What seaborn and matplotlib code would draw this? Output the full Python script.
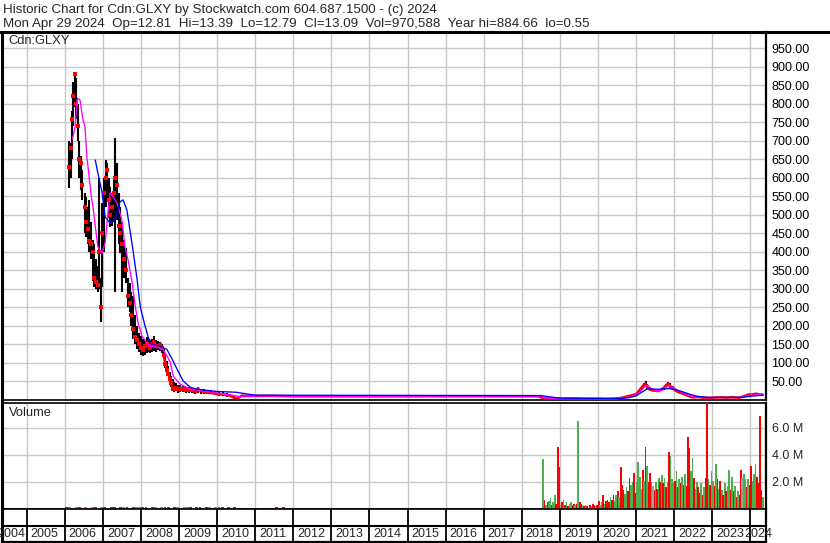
import numpy as np
import matplotlib
matplotlib.use('Agg')
import matplotlib.pyplot as plt
from matplotlib.lines import Line2D
import seaborn as sns

sns.set_style('white')
plt.rcParams['font.family'] = ['Liberation Sans', 'DejaVu Sans']

# --- price bars (decimal year, high, low, close) ---
bar_t = [2006.11, 2006.15, 2006.19, 2006.22, 2006.26, 2006.30, 2006.34, 2006.38, 2006.42, 2006.46,
         2006.52, 2006.56, 2006.60, 2006.64, 2006.68, 2006.73, 2006.78, 2006.83, 2006.87, 2006.91,
         2006.95, 2006.99, 2007.03, 2007.07, 2007.11, 2007.15, 2007.20, 2007.25, 2007.29, 2007.33,
         2007.38, 2007.42, 2007.46, 2007.50, 2007.55, 2007.60, 2007.65, 2007.70, 2007.75, 2007.80,
         2007.85, 2007.90, 2007.95, 2008.00, 2008.05, 2008.10, 2008.15, 2008.20, 2008.25, 2008.30,
         2008.35, 2008.40, 2008.45, 2008.50, 2008.55, 2008.60, 2008.64, 2008.68, 2008.72, 2008.76,
         2008.80, 2008.84, 2008.88, 2008.92, 2008.96, 2009.02, 2009.10, 2009.18, 2009.26, 2009.34,
         2009.42, 2009.50, 2009.58, 2009.66, 2009.75, 2009.85, 2009.95, 2010.05, 2010.15, 2010.25,
         2010.35, 2010.45, 2010.55, 2010.65, 2010.80, 2011.00, 2011.50, 2012.00, 2012.50, 2013.00,
         2013.50, 2014.00, 2014.50, 2015.00, 2015.50, 2016.00, 2016.50, 2017.00, 2017.50, 2018.00,
         2018.45, 2018.56, 2018.64, 2018.72, 2018.80, 2018.88, 2018.96, 2019.05, 2019.15, 2019.25,
         2019.35, 2019.45, 2019.55, 2019.65, 2019.75, 2019.85, 2019.95, 2020.05, 2020.15, 2020.25,
         2020.35, 2020.45, 2020.55, 2020.62, 2020.70, 2020.78, 2020.86, 2020.93, 2021.00, 2021.05,
         2021.10, 2021.15, 2021.20, 2021.25, 2021.30, 2021.35, 2021.42, 2021.50, 2021.58, 2021.66,
         2021.73, 2021.80, 2021.85, 2021.90, 2021.96, 2022.03, 2022.10, 2022.17, 2022.25, 2022.33,
         2022.42, 2022.50, 2022.60, 2022.70, 2022.80, 2022.90, 2023.00, 2023.10, 2023.20, 2023.30,
         2023.40, 2023.50, 2023.60, 2023.70, 2023.80, 2023.88, 2023.95, 2024.05, 2024.15, 2024.25,
         2024.33]
bar_hi = [700, 694, 780, 860, 886, 870, 800, 700, 660, 620,
          560, 548, 520, 540, 480, 432, 420, 380, 360, 598,
          330, 532, 600, 648, 640, 600, 575, 560, 600, 707,
          640, 560, 521, 480, 432, 410, 330, 316, 290, 279,
          230, 198, 180, 172, 165, 160, 170, 165, 160, 165,
          172, 160, 158, 155, 150, 140, 117, 105, 90, 75,
          63, 55, 48, 45, 40, 40, 38, 35, 35, 32,
          30, 35, 30, 28, 25, 25, 22, 20, 20, 18,
          16, 12, 8, 13, 12, 11, 11, 10, 10, 10,
          10, 10, 10, 10, 10, 10, 10, 10, 10, 10,
          10, 5, 4, 3.5, 3.2, 3, 3, 3, 3.5, 3.5,
          3.2, 3.5, 3, 2.8, 2.5, 2.5, 2.6, 3, 2.8, 2.5,
          2.8, 3.5, 4.5, 6, 8, 10, 12, 14, 17, 22,
          30, 36, 45, 50, 42, 35, 30, 28, 27, 30,
          35, 42, 48, 44, 36, 30, 26, 22, 19, 15,
          12, 9, 9, 8, 7, 6, 6, 7, 7.5, 7,
          6.5, 7, 7, 6, 9, 12, 15, 16, 17, 16,
          13.4]
bar_lo = [572, 600, 650, 740, 790, 760, 700, 600, 567, 540,
          450, 440, 420, 400, 380, 320, 305, 300, 290, 300,
          211, 305, 400, 520, 540, 490, 467, 470, 480, 290,
          486, 420, 397, 290, 330, 316, 250, 236, 200, 163,
          150, 136, 130, 120, 118, 120, 125, 130, 125, 130,
          132, 130, 135, 132, 125, 110, 85, 70, 63, 45,
          35, 22, 20, 22, 18, 20, 20, 18, 18, 18,
          15, 18, 15, 14, 14, 14, 12, 10, 10, 8,
          6, 3, 2, 8, 8, 8, 8, 8, 8, 8,
          8, 8, 8, 8, 8, 8, 8, 8, 8, 8,
          8, 2.5, 2.5, 2.5, 2, 1.5, 1.8, 2, 2.5, 2.5,
          2.2, 2.3, 2, 1.8, 1.8, 1.8, 1.9, 2, 1.5, 1.4,
          1.8, 2.2, 3, 4, 5.5, 7, 9, 11, 12, 16,
          20, 27, 33, 38, 30, 26, 22, 22, 20, 22,
          26, 33, 38, 32, 27, 22, 18, 16, 13, 10,
          7, 5, 6, 5, 4, 3, 4, 5, 5.5, 5,
          5, 5, 5, 4.5, 5, 8, 11, 12, 13, 12,
          12.8]
bar_cl = [630, 680, 760, 820, 880, 800, 740, 650, 640, 580,
          520, 480, 460, 430, 420, 400, 330, 317, 310, 400,
          250, 450, 560, 600, 620, 540, 500, 520, 560, 600,
          580, 470, 450, 420, 380, 350, 280, 260, 230, 190,
          170, 160, 150, 140, 135, 145, 150, 148, 140, 150,
          155, 145, 145, 148, 140, 120, 95, 80, 70, 55,
          45, 30, 30, 32, 28, 30, 28, 25, 27, 25,
          22, 30, 22, 20, 18, 18, 16, 14, 15, 12,
          10, 5, 4, 11, 10, 10, 10, 9, 9, 9,
          9, 9, 9, 9, 9, 9, 9, 9, 9, 9,
          9, 3.5, 3, 3, 2.5, 2, 2.5, 2.5, 3, 3,
          2.8, 3, 2.5, 2.2, 2.2, 2.1, 2.3, 2.5, 1.8, 2,
          2.4, 3, 4, 5, 7, 9, 11, 13, 15, 20,
          27, 33, 40, 44, 32, 28, 25, 24, 23, 27,
          32, 40, 44, 35, 30, 25, 21, 18, 15, 12,
          8, 6, 7, 6, 5, 4, 5, 6, 6, 6,
          5.5, 6.5, 6, 5, 8, 11, 14, 14, 16, 14,
          13.1]

# --- moving averages ---
ma_short_t = [2006.20, 2006.27, 2006.33, 2006.40, 2006.47, 2006.53, 2006.58, 2006.64, 2006.70, 2006.74,
              2006.79, 2006.87, 2006.98, 2007.06, 2007.14, 2007.19, 2007.27, 2007.37, 2007.50, 2007.58,
              2007.66, 2007.77, 2007.85, 2007.92, 2008.03, 2008.24, 2008.40, 2008.58, 2008.70, 2008.77,
              2008.85, 2009.03, 2009.29, 2009.60, 2010.00, 2010.40, 2010.60, 2011.00, 2018.50, 2018.60,
              2018.80, 2020.50, 2020.70, 2020.90, 2021.05, 2021.15, 2021.25, 2021.32, 2021.40, 2021.55,
              2021.70, 2021.85, 2021.92, 2022.05, 2022.20, 2022.35, 2022.50, 2022.70, 2022.90, 2023.20,
              2023.70, 2023.85, 2024.00, 2024.33]
ma_short_v = [705, 738, 815, 810, 760, 737, 656, 602, 545, 523,
              477, 413, 397, 424, 512, 559, 548, 532, 486, 413,
              378, 316, 252, 209, 171, 144, 142, 136, 115, 101,
              63, 42, 28, 24, 18, 12, 8, 9, 9, 5,
              3, 3, 5, 9, 16, 26, 38, 38, 30, 24,
              26, 38, 38, 28, 20, 13, 8, 6.5, 5, 6,
              5.5, 8, 12, 14]
ma_long_t = [2006.80, 2006.87, 2006.98, 2007.06, 2007.19, 2007.32, 2007.45, 2007.53, 2007.63, 2007.71,
             2007.79, 2007.90, 2007.98, 2008.11, 2008.24, 2008.50, 2008.68, 2008.82, 2008.95, 2009.11,
             2009.29, 2009.47, 2010.00, 2010.50, 2011.00, 2018.50, 2018.70, 2019.00, 2020.60, 2020.80,
             2021.00, 2021.15, 2021.30, 2021.60, 2021.85, 2022.00, 2022.20, 2022.40, 2022.60, 2022.80,
             2023.00, 2023.50, 2023.80, 2024.00, 2024.33]
ma_long_v = [648, 612, 559, 494, 477, 486, 535, 540, 513, 459,
             405, 324, 252, 198, 152, 144, 136, 109, 82, 50,
             34, 28, 22, 20, 12, 11, 8, 4, 3, 5,
             10, 20, 29, 28, 30, 28, 22, 15, 9, 7,
             6, 6, 6.5, 9, 12]

# --- volume (millions), biweekly from mid 2018 ---
vol_start = 2018.56
vol_m = [3.7, 0.7, 0.3, 0.5, 0.6, 0.8, 0.3, 0.5, 1.0, 0.4, 4.6, 3.1, 0.3, 0.5, 0.7, 0.3, 0.5, 0.2, 0.4, 0.5,
         0.3, 0.4, 0.3, 0.4, 6.5, 0.5, 0.4, 0.3, 0.2, 0.3, 0.2, 0.1, 0.3, 0.2, 0.4, 0.3, 0.2, 0.3, 0.6, 0.3,
         0.5, 1.0, 0.4, 0.6, 0.7, 0.5, 0.9, 0.7, 1.0, 0.6, 1.0, 1.3, 0.9, 3.1, 1.8, 1.4, 1.1, 1.6, 1.3, 2.3,
         1.8, 2.0, 2.7, 1.2, 2.0, 3.5, 2.4, 1.5, 2.9, 2.1, 4.6, 3.2, 2.0, 2.7, 2.0, 1.7, 1.4, 2.0, 1.5, 2.3,
         2.0, 2.5, 1.9, 2.3, 1.6, 2.0, 4.2, 3.9, 2.2, 2.0, 2.1, 2.8, 1.6, 2.2, 1.9, 2.4, 1.8, 2.6, 1.7, 5.3,
         4.5, 2.8, 3.8, 2.3, 1.5, 2.0, 1.6, 1.2, 1.9, 1.0, 1.6, 2.3, 8.5, 2.2, 1.8, 2.8, 2.1, 1.7, 3.3, 2.2,
         1.5, 2.1, 1.4, 1.0, 1.9, 1.3, 1.7, 2.9, 1.4, 2.4, 1.3, 1.7, 0.9, 1.3, 1.0, 2.9, 2.3, 2.6, 2.2, 1.6,
         2.2, 1.8, 3.2, 2.1, 2.6, 3.3, 2.4, 1.9, 6.9, 1.4, 0.9]
vol_col = ('grgrggrggrrrnrgrgrgg'
           'rrgrgrrgrgrgrgrrgrrg'
           'grgrrrgrrggrgrrrggrr'
           'ggrrggggrgrgrrgnrgrg'
           'rgrgrgrgggrgrgrgrgrr'
           'rggrggrrgrgrrgrggrgr'
           'grgrgrggrgrgrgrrngg'
           'rgrrgggrrrrg')
early_vol_t = [2006.05 + k / 12 for k in range(55)] + [2011.55, 2011.65, 2011.75, 2011.85]
early_vol_m = [0.12, 0.15, 0.10, 0.14, 0.12, 0.09, 0.13, 0.11, 0.15, 0.12, 0.10, 0.14,
               0.13, 0.11, 0.15, 0.12, 0.10, 0.13, 0.14, 0.12, 0.11, 0.15, 0.13, 0.12,
               0.14, 0.12, 0.10, 0.13, 0.15, 0.11, 0.12, 0.14, 0.13, 0.10, 0.12, 0.15,
               0.11, 0.13, 0.12, 0.14, 0.10, 0.12, 0.13, 0.11, 0.15, 0.12, 0.10, 0.13,
               0.12, 0.14, 0.11, 0.13, 0.10, 0.12, 0.09, 0.12, 0.10, 0.13, 0.11]
early_vol_col = 'rgrgrrgrgrggrgrrgrgrgrggrrgrgrgrrgrgrggrgrrgrgrgrrgrgrrrgr'

years = list(range(2004, 2025))

header1 = 'Historic Chart for Cdn:GLXY by Stockwatch.com 604.687.1500 - (c) 2024'
header2 = 'Mon Apr 29 2024  Op=12.81  Hi=13.39  Lo=12.79  Cl=13.09  Vol=970,588  Year hi=884.66  lo=0.55'

# --- layout in pixel coordinates ---
W, H = 830, 543
X0, X1 = 2004.351, 2024.414
GRID = '#C8C8C8'
RED, GREEN, GRAY = '#FF0000', '#4CB050', '#A0A0A0'
cmap = {'r': RED, 'g': GREEN, 'n': GRAY}


def box(x0, y0, x1, y1):
    return [x0 / W, 1 - y1 / H, (x1 - x0) / W, (y1 - y0) / H]


fig = plt.figure(figsize=(W / 100, H / 100), dpi=100)
ax = fig.add_axes(box(2, 32, 766, 400))
axv = fig.add_axes(box(2, 403, 766, 509))
axt = fig.add_axes(box(2, 509, 766, 542))

# price panel
ax.vlines(bar_t, bar_lo, bar_hi, color='black', lw=1.5, zorder=3)
late = [i for i, t in enumerate(bar_t) if t >= 2008.6]
sns.lineplot(x=[bar_t[i] for i in late], y=[bar_cl[i] for i in late], ax=ax,
             color=RED, lw=1.8, zorder=4)
early = [i for i, t in enumerate(bar_t) if t < 2009.5]
sns.scatterplot(x=[bar_t[i] for i in early], y=[bar_cl[i] for i in early], ax=ax,
                color=RED, marker='s', s=6, linewidth=0, zorder=4)
sns.lineplot(x=ma_short_t, y=ma_short_v, ax=ax, color='#FF00FF', lw=0.95, zorder=5)
sns.lineplot(x=ma_long_t, y=ma_long_v, ax=ax, color='#0000FF', lw=0.95, zorder=6)

ax.set_xlim(X0, X1)
ax.set_ylim(-1, 994)
ax.set_xticks(years[1:])
yt = list(range(50, 1000, 50))
ax.set_yticks(yt)
ax.set_yticklabels([f'{v:.2f}' for v in yt])
ax.yaxis.tick_right()
ax.tick_params(axis='y', length=0, pad=4, labelsize=9, labelcolor='#000000')
ax.tick_params(axis='x', length=0, labelbottom=False)
ax.grid(True, color=GRID, lw=1)
ax.set_axisbelow(True)
ax.set_xlabel('')
ax.set_ylabel('')
ax.text(6 / 764, 1 - 9 / 368, 'Cdn:GLXY', transform=ax.transAxes, fontsize=9.3, va='center', ha='left')

# volume panel
vol_t = [vol_start + k / 26 for k in range(len(vol_m))]
axv.bar(vol_t, [v * 1e6 for v in vol_m], width=0.044, color=[cmap[c] for c in vol_col],
        linewidth=0, antialiased=False, zorder=3)
axv.bar(early_vol_t, [v * 1e6 for v in early_vol_m], width=0.075,
        color=[cmap[c] for c in early_vol_col], linewidth=0, antialiased=False, zorder=3)
axv.set_xlim(X0, X1)
axv.set_ylim(0, 7.85e6)
axv.set_xticks(years[1:])
vt = [2e6, 4e6, 6e6]
axv.set_yticks(vt)
axv.set_yticklabels([f'{v / 1e6:.1f} M' for v in vt])
axv.yaxis.tick_right()
axv.tick_params(axis='y', length=0, pad=4, labelsize=9)
axv.tick_params(axis='x', length=0, labelbottom=False)
axv.grid(True, color=GRID, lw=1)
axv.set_axisbelow(True)
axv.text(7 / 764, 1 - 10 / 106, 'Volume', transform=axv.transAxes, fontsize=9.3, va='center', ha='left')

# year band
axt.set_xlim(X0, X1)
axt.set_ylim(0, 1)
axt.vlines(years[1:], 0, 1, color='black', lw=1.3)
axt.axhline((542 - 526) / 33, color='black', lw=1.5)
for y in years:
    if y == 2004:
        axt.text(2005 - 1.5 / 38.08, 0.24, str(y), ha='right', va='center', fontsize=9)
    elif y == 2024:
        axt.text(2023 + (745 - 712.7) / 38.08, 0.24, str(y), ha='left', va='center',
                 fontsize=9, clip_on=False)
    else:
        axt.text(y + 4 / 38.08, 0.24, str(y), ha='left', va='center', fontsize=9)
axt.set_xticks([])
axt.set_yticks([])

for a in (ax, axv, axt):
    for s in a.spines.values():
        s.set_color('black')
        s.set_visible(True)
    a.spines['left'].set_linewidth(2.2)
    a.spines['right'].set_linewidth(1.6)
    a.spines['top'].set_linewidth(1.2)
    a.spines['bottom'].set_linewidth(1.2)
axt.spines['bottom'].set_linewidth(1.6)

# header
fig.add_artist(Line2D([0, 1], [1 - 31.5 / H] * 2, color='black', lw=2.2))
fig.text(3 / W, 1 - 13 / H, header1, fontsize=9.6, va='baseline', ha='left')
fig.text(3 / W, 1 - 26.5 / H, header2, fontsize=9.6, va='baseline', ha='left')

fig.savefig('out.png', dpi=100, facecolor='white')
